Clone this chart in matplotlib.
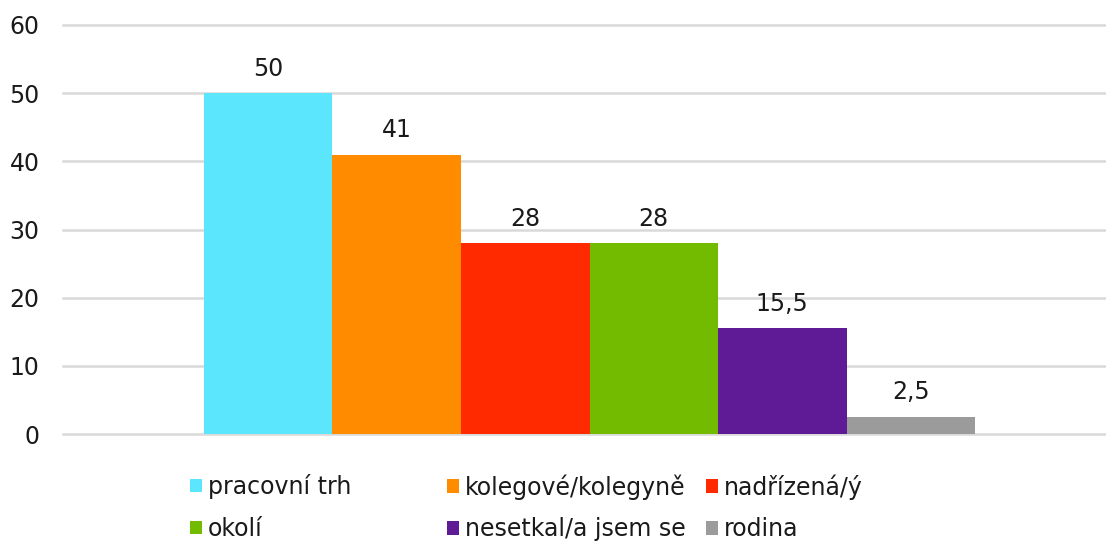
import matplotlib
matplotlib.use("Agg")
import matplotlib.pyplot as plt
from matplotlib.patches import Patch

kategorie = ["pracovní trh", "kolegové/kolegyně", "nadřízená/ý",
             "okolí", "nesetkal/a jsem se", "rodina"]
hodnoty = [50, 41, 28, 28, 15.5, 2.5]
popisky = ["50", "41", "28", "28", "15,5", "2,5"]
barvy = ["#5CE6FE", "#FF8C00", "#FF2A00", "#72BB00", "#5F1B96", "#9B9B9B"]
osa_y = [0, 10, 20, 30, 40, 50, 60]

plt.rcParams['font.family'] = ['DejaVu Sans']
fs = 17

fig = plt.figure(figsize=(11.06, 5.42), dpi=100)
ax = fig.add_axes([63/1106, 1 - 434/542, 1 - 63/1106, (434 - 25)/542])

x = list(range(len(hodnoty)))
bars = ax.bar(x, hodnoty, width=1.0, color=barvy, zorder=3)
ax.bar_label(bars, labels=popisky, padding=9, fontsize=fs, color="#1a1a1a")

ax.set_ylim(0, 60)
ax.set_yticks(osa_y)
ax.set_xlim(-1.597, 6.519)
ax.set_xticks([])
ax.yaxis.grid(True, color="#d9d9d9", linewidth=1.8, zorder=0)
for g in ax.get_ygridlines():
    g.set_clip_on(False)
ax.tick_params(axis="y", length=0, pad=17, labelsize=fs, labelcolor="#1a1a1a")
for s in ax.spines.values():
    s.set_visible(False)

# legenda: tři sloupce se stejnou šířkou jako v Excelu
sloupce_x = [190, 447, 706]
for c in range(3):
    idx = [c, c + 3]
    handles = [Patch(facecolor=barvy[i]) for i in idx]
    fig.legend(handles, [kategorie[i] for i in idx],
               loc="upper left", bbox_to_anchor=(sloupce_x[c]/1106, 1 - 474/542),
               frameon=False, fontsize=fs, handlelength=0.5, handleheight=0.5,
               handletextpad=0.25, labelspacing=0.75, borderpad=0, borderaxespad=0,
               labelcolor="#1a1a1a")

fig.savefig("out.png", dpi=100)
